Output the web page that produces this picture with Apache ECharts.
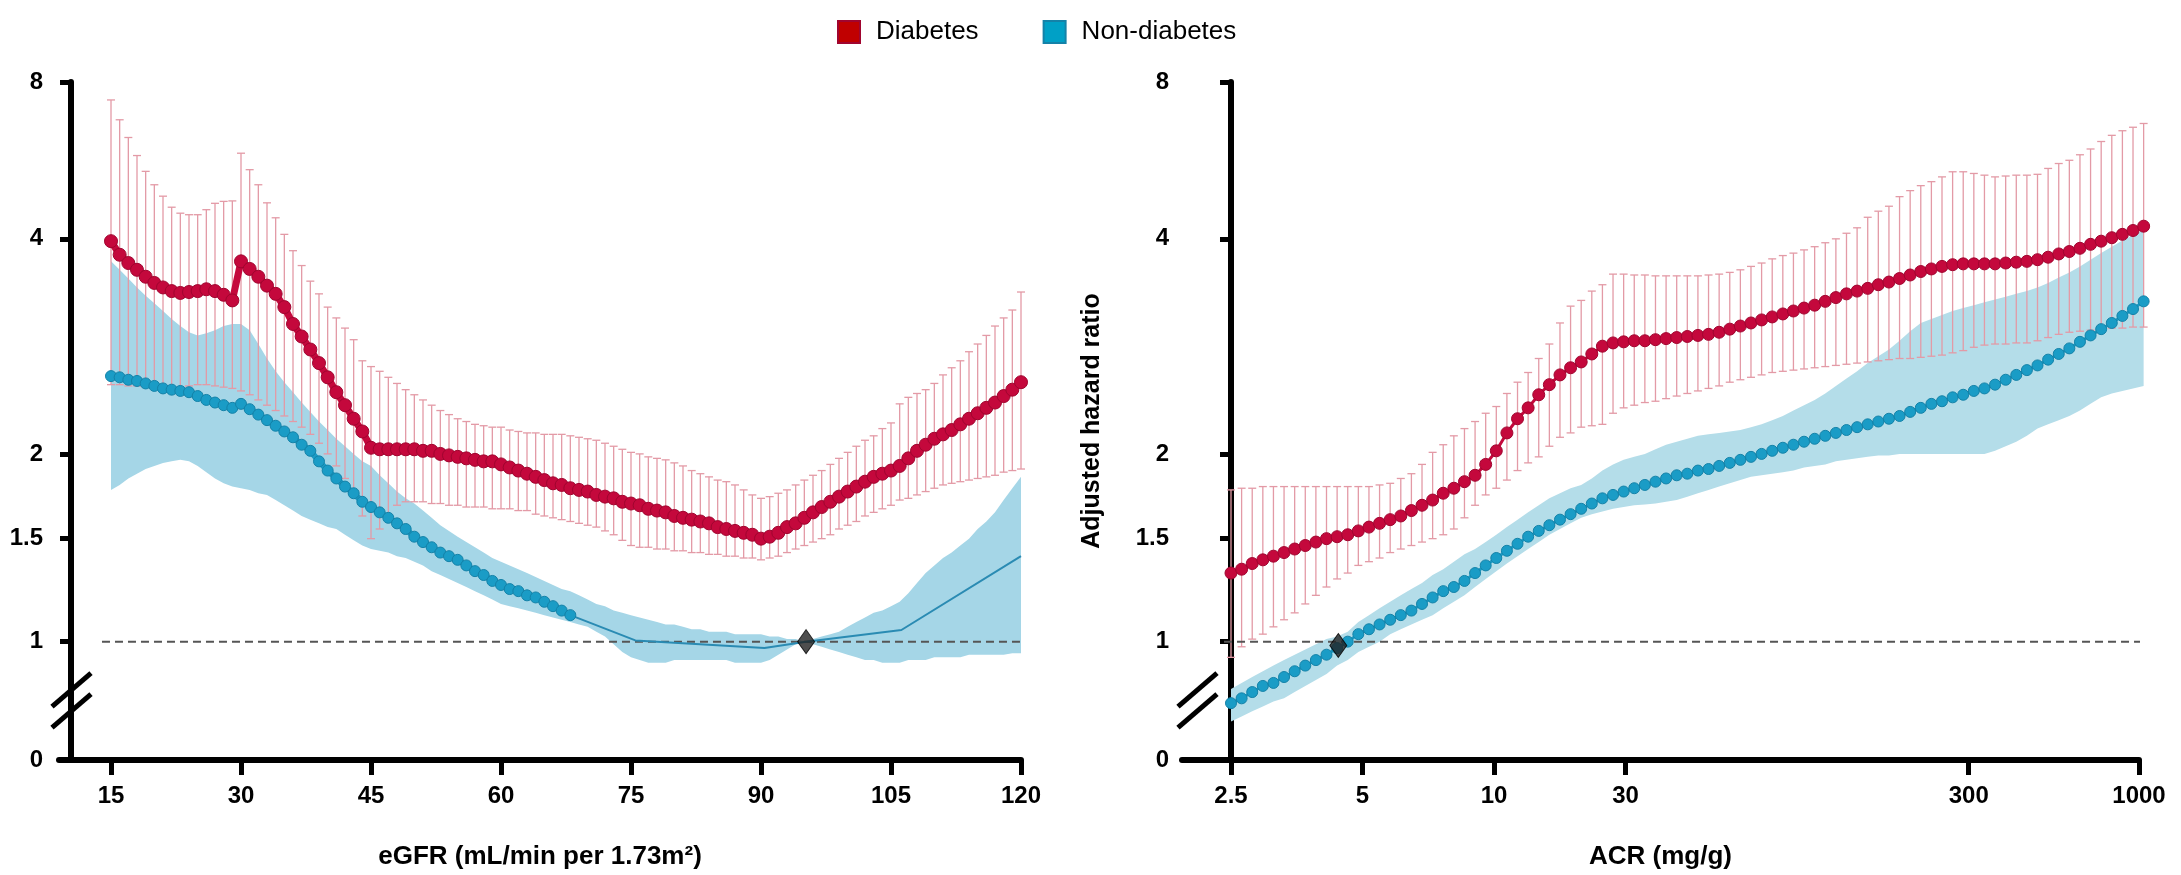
<!DOCTYPE html>
<html>
<head>
<meta charset="utf-8">
<script src="https://cdn.jsdelivr.net/npm/echarts@6/dist/echarts.min.js"></script>
<style>
  html, body { margin: 0; padding: 0; background: #fff; }
  #main { width: 2181px; height: 875px; }
</style>
</head>
<body>
<div id="main"></div>
<script>
// ---- tick labels / axis scale ----
var yTickHR = [0, 1, 1.5, 2, 4, 8];
var yTickLabels = ['0', '1', '1.5', '2', '4', '8'];
var egfrTicks = [15, 30, 45, 60, 75, 90, 105, 120];
var acrTickLabels = ['2.5', '5', '10', '30', '300', '1000'];
var acrTickPos = [0, 1, 2, 3, 5.61, 6.905];   // where each ACR label sits on the drawn scale

// eGFR grid (15..120, 1 per point) and ACR sampling grid on the drawn scale
var egfr = [];
for (var e = 15; e <= 120; e++) egfr.push(e);
var acrStep = 0.0807;
var acrPos = [];
for (var k = 0; k < 87; k++) acrPos.push(+(k * acrStep).toFixed(4));

// ---- eGFR panel ----
var redEstL = [3.97,3.80,3.70,3.62,3.54,3.47,3.42,3.38,3.36,3.37,3.38,3.40,3.38,3.34,3.28,
  3.72,3.63,3.54,3.44,3.35,3.21,3.04,2.92,2.80,2.68,2.56,2.44,2.34,2.24,2.15,
  2.04,2.03,2.03,2.03,2.03,2.03,2.02,2.02,2.00,1.99,1.98,1.97,1.96,1.95,1.95,
  1.93,1.91,1.89,1.87,1.85,1.83,1.81,1.80,1.78,1.77,1.76,1.74,1.73,1.72,1.70,
  1.69,1.68,1.66,1.65,1.64,1.62,1.61,1.60,1.59,1.58,1.56,1.55,1.54,1.53,1.52,
  1.50,1.51,1.53,1.56,1.58,1.61,1.64,1.67,1.70,1.73,1.76,1.79,1.82,1.85,1.87,
  1.89,1.92,1.97,2.02,2.06,2.10,2.13,2.16,2.20,2.24,2.28,2.32,2.36,2.41,2.46,2.52];
var redHiL = [7.39,6.77,6.26,5.78,5.39,5.08,4.83,4.60,4.48,4.45,4.45,4.55,4.68,4.72,4.73,
  5.84,5.43,5.08,4.69,4.39,4.08,3.85,3.67,3.49,3.35,3.21,3.10,3.00,2.89,2.70,
  2.65,2.61,2.56,2.51,2.46,2.42,2.38,2.34,2.30,2.27,2.24,2.22,2.20,2.19,2.18,
  2.18,2.16,2.15,2.14,2.14,2.13,2.13,2.13,2.12,2.11,2.10,2.09,2.07,2.05,2.03,
  2.01,2.00,1.98,1.97,1.96,1.94,1.92,1.89,1.87,1.85,1.83,1.82,1.80,1.77,1.74,
  1.72,1.73,1.75,1.77,1.80,1.83,1.86,1.89,1.93,1.97,2.01,2.05,2.09,2.12,2.17,
  2.21,2.35,2.40,2.43,2.46,2.51,2.58,2.64,2.70,2.78,2.85,2.93,3.02,3.10,3.18,3.37];
var redLoL = [2.50,2.50,2.49,2.49,2.48,2.48,2.47,2.47,2.48,2.49,2.50,2.50,2.49,2.48,2.47,
  2.45,2.42,2.38,2.34,2.30,2.26,2.22,2.18,2.13,2.07,2.00,1.92,1.84,1.74,1.62,
  1.50,1.55,1.62,1.68,1.70,1.70,1.70,1.69,1.69,1.68,1.68,1.67,1.67,1.67,1.66,
  1.66,1.66,1.65,1.65,1.63,1.62,1.61,1.60,1.59,1.58,1.57,1.56,1.54,1.52,1.49,
  1.46,1.45,1.45,1.44,1.44,1.43,1.43,1.42,1.42,1.41,1.41,1.40,1.40,1.39,1.39,
  1.38,1.39,1.40,1.42,1.44,1.46,1.48,1.50,1.52,1.55,1.57,1.59,1.62,1.64,1.66,
  1.68,1.71,1.72,1.74,1.76,1.78,1.80,1.81,1.82,1.83,1.84,1.85,1.86,1.88,1.89,1.90];
// non-diabetes dots run from 15 to 68, then a plain line
var blueEstL = [2.57,2.56,2.54,2.53,2.51,2.49,2.47,2.46,2.45,2.44,2.41,2.38,2.36,2.34,2.32,
  2.35,2.31,2.27,2.23,2.19,2.15,2.11,2.06,2.02,1.95,1.89,1.84,1.79,1.75,1.70,
  1.67,1.64,1.61,1.58,1.55,1.51,1.48,1.45,1.42,1.40,1.38,1.35,1.32,1.30,1.27,
  1.25,1.23,1.22,1.20,1.19,1.17,1.15,1.13,1.11];
var blueLineX = [68, 75.5, 90.4, 95.2, 106.2, 120];
var blueLineY = [1.11, 1.005, 0.975, 1.0, 1.047, 1.40];
var blueHiL = [3.72,3.62,3.52,3.42,3.33,3.25,3.17,3.09,3.02,2.96,2.93,2.95,2.98,3.02,3.04,
  3.04,2.98,2.85,2.72,2.61,2.52,2.44,2.36,2.29,2.22,2.16,2.10,2.05,2.00,1.95,
  1.92,1.86,1.81,1.76,1.72,1.69,1.65,1.61,1.57,1.54,1.51,1.48,1.45,1.42,1.39,
  1.37,1.35,1.33,1.31,1.29,1.27,1.25,1.23,1.22,1.20,1.18,1.16,1.15,1.13,1.12,
  1.11,1.10,1.09,1.08,1.07,1.07,1.06,1.05,1.05,1.04,1.04,1.04,1.03,1.03,1.03,
  1.03,1.02,1.02,1.01,1.01,1.00,1.01,1.02,1.03,1.04,1.06,1.08,1.10,1.12,1.13,
  1.15,1.17,1.21,1.26,1.31,1.35,1.39,1.42,1.46,1.50,1.55,1.59,1.64,1.71,1.78,1.85];
var blueLoL = [1.77,1.80,1.84,1.87,1.90,1.92,1.94,1.95,1.96,1.95,1.92,1.88,1.84,1.81,1.79,
  1.78,1.77,1.75,1.74,1.71,1.68,1.65,1.62,1.60,1.58,1.56,1.55,1.52,1.49,1.46,
  1.44,1.43,1.42,1.40,1.39,1.37,1.35,1.32,1.30,1.28,1.26,1.24,1.22,1.20,1.18,
  1.16,1.15,1.14,1.13,1.12,1.11,1.10,1.09,1.08,1.07,1.06,1.04,1.02,0.99,0.96,
  0.94,0.93,0.92,0.92,0.92,0.93,0.93,0.93,0.93,0.93,0.93,0.93,0.92,0.92,0.92,
  0.92,0.93,0.95,0.97,0.99,1.00,0.99,0.98,0.97,0.96,0.95,0.94,0.93,0.93,0.92,
  0.92,0.92,0.93,0.93,0.93,0.94,0.94,0.94,0.94,0.95,0.95,0.95,0.95,0.95,0.955,0.955];
var refPointL = [95.2, 1.0];

// ---- ACR panel ----
var redEstR = [1.31,1.33,1.36,1.38,1.40,1.42,1.44,1.46,1.48,1.50,
  1.51,1.52,1.54,1.56,1.58,1.60,1.62,1.65,1.68,1.71,
  1.75,1.78,1.82,1.86,1.93,2.02,2.14,2.24,2.32,2.42,
  2.50,2.58,2.64,2.69,2.76,2.83,2.86,2.87,2.88,2.88,
  2.89,2.90,2.91,2.92,2.93,2.94,2.96,2.99,3.02,3.05,
  3.08,3.11,3.14,3.17,3.20,3.23,3.27,3.31,3.35,3.38,
  3.41,3.45,3.48,3.52,3.56,3.60,3.63,3.66,3.68,3.69,
  3.69,3.69,3.69,3.70,3.71,3.72,3.74,3.77,3.81,3.84,
  3.88,3.93,3.97,4.02,4.08,4.15,4.23];
var redHiR = [1.77,1.78,1.78,1.79,1.79,1.79,1.79,1.79,1.79,1.79,
  1.79,1.79,1.79,1.79,1.80,1.81,1.84,1.87,1.93,2.01,
  2.06,2.12,2.17,2.22,2.28,2.33,2.43,2.52,2.60,2.72,
  2.85,3.05,3.22,3.28,3.38,3.45,3.57,3.57,3.56,3.56,
  3.55,3.55,3.55,3.55,3.55,3.56,3.57,3.59,3.62,3.66,
  3.70,3.75,3.79,3.82,3.86,3.90,3.95,4.00,4.10,4.20,
  4.40,4.52,4.62,4.82,4.95,5.06,5.15,5.26,5.38,5.38,
  5.34,5.30,5.26,5.28,5.30,5.30,5.32,5.46,5.58,5.66,
  5.80,5.95,6.15,6.32,6.45,6.55,6.66];
var redLoR = [0.94,0.98,1.01,1.03,1.06,1.09,1.12,1.16,1.20,1.24,
  1.28,1.31,1.35,1.37,1.39,1.42,1.44,1.46,1.48,1.50,
  1.52,1.55,1.61,1.68,1.74,1.78,1.83,1.89,1.94,1.98,
  2.05,2.11,2.14,2.18,2.19,2.20,2.28,2.32,2.34,2.36,
  2.37,2.39,2.41,2.43,2.45,2.47,2.49,2.52,2.54,2.56,
  2.58,2.60,2.61,2.62,2.63,2.64,2.65,2.66,2.67,2.68,
  2.69,2.70,2.71,2.72,2.72,2.73,2.74,2.75,2.77,2.79,
  2.82,2.84,2.85,2.85,2.86,2.86,2.88,2.91,2.94,2.96,
  2.97,2.98,2.99,3.00,3.00,3.01,3.01];
var blueEstR = [0.785,0.80,0.82,0.84,0.85,0.87,0.89,0.91,0.93,0.95,
  0.975,1.00,1.03,1.05,1.07,1.09,1.11,1.13,1.16,1.19,
  1.22,1.24,1.27,1.31,1.35,1.39,1.43,1.47,1.51,1.54,
  1.57,1.60,1.63,1.66,1.69,1.72,1.74,1.76,1.78,1.80,
  1.82,1.84,1.86,1.87,1.89,1.90,1.92,1.94,1.96,1.98,
  2.00,2.02,2.04,2.06,2.08,2.10,2.12,2.14,2.16,2.18,
  2.20,2.22,2.24,2.26,2.29,2.32,2.35,2.37,2.40,2.42,
  2.45,2.47,2.50,2.54,2.58,2.62,2.66,2.71,2.76,2.81,
  2.87,2.93,2.99,3.05,3.12,3.19,3.27];
var blueHiR = [0.83,0.85,0.87,0.89,0.91,0.93,0.95,0.97,0.99,1.01,
  1.02,1.04,1.08,1.11,1.14,1.17,1.20,1.23,1.26,1.30,
  1.33,1.37,1.41,1.44,1.48,1.52,1.56,1.60,1.64,1.68,
  1.72,1.75,1.78,1.80,1.84,1.89,1.93,1.96,1.98,2.00,
  2.03,2.06,2.08,2.10,2.12,2.13,2.14,2.15,2.16,2.18,
  2.20,2.23,2.26,2.30,2.34,2.38,2.43,2.49,2.55,2.61,
  2.68,2.74,2.80,2.88,2.97,3.05,3.09,3.13,3.17,3.20,
  3.23,3.26,3.29,3.32,3.35,3.38,3.42,3.47,3.53,3.59,
  3.66,3.74,3.82,3.90,3.98,4.07,4.16];
var blueLoR = [0.73,0.745,0.76,0.775,0.79,0.80,0.82,0.84,0.86,0.88,
  0.91,0.93,0.96,0.98,1.00,1.03,1.05,1.07,1.09,1.11,
  1.14,1.17,1.20,1.24,1.28,1.32,1.36,1.40,1.44,1.48,
  1.52,1.55,1.58,1.61,1.63,1.645,1.66,1.67,1.68,1.685,
  1.69,1.70,1.71,1.73,1.75,1.77,1.79,1.81,1.83,1.85,
  1.86,1.87,1.88,1.89,1.91,1.92,1.93,1.95,1.96,1.97,
  1.98,1.99,1.99,2.00,2.00,2.00,2.00,2.00,2.00,2.00,
  2.00,2.00,2.02,2.05,2.08,2.12,2.17,2.20,2.23,2.26,
  2.30,2.35,2.40,2.43,2.45,2.47,2.49];
var refPointR = [0.816, 0.985];

// ---- the broken hazard-ratio scale: log pieces between the printed ticks ----
var hrKnots = [1, 1.5, 2, 4, 8];
var posKnots = [118.7, 222, 307, 522.7, 680];
function hrPos(v) {
  if (v <= 1) {
    var s = (posKnots[1] - posKnots[0]) / Math.log(hrKnots[1] / hrKnots[0]);
    return Math.max(0, posKnots[0] + Math.log(v) * s);
  }
  for (var i = 0; i < hrKnots.length - 1; i++) {
    if (v <= hrKnots[i + 1] || i === hrKnots.length - 2) {
      var t = Math.log(v / hrKnots[i]) / Math.log(hrKnots[i + 1] / hrKnots[i]);
      return posKnots[i] + t * (posKnots[i + 1] - posKnots[i]);
    }
  }
}
var yTickPos = yTickHR.map(function (v) { return v === 0 ? 0 : hrPos(v); });

var FONT = '"Liberation Sans", Arial, Helvetica, sans-serif';
var RED = '#c4083c', RED_EDGE = '#a0052f', PINK = '#e39aa6';
var BLUE = '#1a9cc6', BLUE_EDGE = '#1482a8', BLUE_LINE = '#2a8bb3';
var BAND_L = '#a5d6e7', BAND_R = '#b4dde9';
var yOffsets = [12, 15];
var acrMin = -0.3726;

function pickLabel(vals, labels) {
  return function (v) {
    for (var i = 0; i < vals.length; i++) if (Math.abs(vals[i] - v) < 0.01) return labels[i];
    return '';
  };
}

function xAxisCfg(g, min, max, ticks, labels, name) {
  return {
    type: 'value', gridIndex: g, min: min, max: max,
    name: name, nameLocation: 'middle', nameGap: 84,
    nameTextStyle: { fontSize: 26, fontWeight: 'bold', fontFamily: FONT, color: '#000' },
    axisLine: { show: true, onZero: false, lineStyle: { color: '#000', width: 6 } },
    axisTick: { show: true, length: 15, customValues: ticks, lineStyle: { color: '#000', width: 5 } },
    axisLabel: { customValues: ticks, margin: 24, color: '#000', fontSize: 24, fontWeight: 'bold',
      fontFamily: FONT, formatter: pickLabel(ticks, labels) },
    splitLine: { show: false }
  };
}

function yAxisCfg(g, name) {
  return {
    type: 'value', gridIndex: g, min: 0, max: 680, offset: -yOffsets[g],
    name: name || '', nameLocation: 'middle', nameGap: 92, nameRotate: 90,
    nameTextStyle: { fontSize: 25, fontWeight: 'bold', fontFamily: FONT, color: '#000' },
    axisLine: { show: true, lineStyle: { color: '#000', width: 6 } },
    axisTick: { show: true, length: 11, customValues: yTickPos, lineStyle: { color: '#000', width: 5 } },
    axisLabel: { customValues: yTickPos, margin: 28, color: '#000', fontSize: 24, fontWeight: 'bold',
      fontFamily: FONT, formatter: pickLabel(yTickPos, yTickLabels) },
    splitLine: { show: false }
  };
}

function band(name, xs, lo, hi, g, fill) {
  var data = xs.map(function (x, i) { return [x, lo[i], hi[i]]; });
  return {
    type: 'custom', name: name, xAxisIndex: g, yAxisIndex: g, z: 1, silent: true, data: data,
    renderItem: function (params, api) {
      if (params.dataIndex !== 0) return null;
      var top = [], bot = [];
      for (var i = 0; i < data.length; i++) {
        top.push(api.coord([data[i][0], hrPos(data[i][2])]));
        bot.push(api.coord([data[i][0], hrPos(data[i][1])]));
      }
      return { type: 'polygon', shape: { points: top.concat(bot.reverse()) }, style: { fill: fill } };
    }
  };
}

function errBars(name, xs, lo, hi, g) {
  return {
    type: 'custom', name: name, xAxisIndex: g, yAxisIndex: g, z: 2, silent: true,
    data: xs.map(function (x, i) { return [x, lo[i], hi[i]]; }),
    renderItem: function (params, api) {
      var x = api.value(0);
      var a = api.coord([x, hrPos(api.value(1))]);
      var b = api.coord([x, hrPos(api.value(2))]);
      var st = { stroke: PINK, lineWidth: 1.3 };
      return { type: 'group', children: [
        { type: 'line', shape: { x1: a[0], y1: a[1], x2: b[0], y2: b[1] }, style: st },
        { type: 'line', shape: { x1: b[0] - 4, y1: b[1], x2: b[0] + 4, y2: b[1] }, style: st },
        { type: 'line', shape: { x1: a[0] - 4, y1: a[1], x2: a[0] + 4, y2: a[1] }, style: st }
      ] };
    }
  };
}

function dots(name, xs, ys, g, color, edge, size, lineW, z) {
  return {
    type: 'line', name: name, xAxisIndex: g, yAxisIndex: g, z: z, clip: false,
    data: ys.map(function (v, i) { return [xs[i], hrPos(v)]; }),
    symbol: 'circle', symbolSize: size, showSymbol: true, showAllSymbol: true,
    lineStyle: { color: color, width: lineW },
    itemStyle: { color: color, borderColor: edge, borderWidth: 1 },
    emphasis: { disabled: true }
  };
}

function refLine(name, x0, x1, g) {
  return {
    type: 'line', name: name, xAxisIndex: g, yAxisIndex: g, z: 3, clip: false, symbol: 'none', silent: true,
    data: [[x0, hrPos(1)], [x1, hrPos(1)]],
    lineStyle: { color: '#555', width: 2, type: [8, 5] }
  };
}

function diamond(name, p, g) {
  return {
    type: 'scatter', name: name, xAxisIndex: g, yAxisIndex: g, z: 6, silent: true,
    data: [[p[0], hrPos(p[1])]], symbol: 'diamond', symbolSize: [17, 24],
    itemStyle: { color: '#222', borderColor: '#000', borderWidth: 1 }
  };
}

var chart = echarts.init(document.getElementById('main'));
chart.setOption({
  animation: false,
  backgroundColor: '#fff',
  textStyle: { fontFamily: FONT },
  legend: {
    left: 832, top: 14, itemWidth: 22, itemHeight: 22, itemGap: 64, icon: 'rect',
    selectedMode: false,
    textStyle: { fontSize: 26, fontFamily: FONT, color: '#000', padding: [0, 0, 0, 11] },
    data: [
      { name: 'Diabetes', itemStyle: { color: '#c00000' } },
      { name: 'Non-diabetes', itemStyle: { color: '#00a0c6' } }
    ]
  },
  grid: [
    { left: 59, top: 82, width: 962, height: 680 },
    { left: 1182, top: 82, width: 957, height: 680 }
  ],
  xAxis: [
    xAxisCfg(0, 9, 120, egfrTicks, egfrTicks.map(String), 'eGFR (mL/min per 1.73m\u00b2)'),
    xAxisCfg(1, acrMin, 6.905, acrTickPos, acrTickLabels, 'ACR (mg/g)')
  ],
  yAxis: [yAxisCfg(0), yAxisCfg(1, 'Adjusted hazard ratio')],
  series: [
    band('Non-diabetes CI', egfr, blueLoL, blueHiL, 0, BAND_L),
    errBars('Diabetes CI', egfr, redLoL, redHiL, 0),
    refLine('HR 1', 13.96, 123.2, 0),
    dots('Non-diabetes', egfr.slice(0, blueEstL.length), blueEstL, 0, BLUE, BLUE_EDGE, 11, 6, 4),
    {
      type: 'line', name: 'Non-diabetes tail', xAxisIndex: 0, yAxisIndex: 0, z: 4, symbol: 'none', silent: true,
      data: blueLineY.map(function (v, i) { return [blueLineX[i], hrPos(v)]; }),
      lineStyle: { color: BLUE_LINE, width: 2 }
    },
    dots('Diabetes', egfr, redEstL, 0, RED, RED_EDGE, 13, 7, 5),
    diamond('Reference eGFR', refPointL, 0),

    band('Non-diabetes CI ACR', acrPos, blueLoR, blueHiR, 1, BAND_R),
    errBars('Diabetes CI ACR', acrPos, redLoR, redHiR, 1),
    refLine('HR 1 ACR', -0.053, 7.18, 1),
    dots('Non-diabetes', acrPos, blueEstR, 1, BLUE, BLUE_EDGE, 11, 3, 4),
    dots('Diabetes', acrPos, redEstR, 1, RED, RED_EDGE, 12, 3, 5),
    diamond('Reference ACR', refPointR, 1)
  ]
});

// axis break marks "//" on both y axes, between 0 and 1
var breakMarks = [];
[[0, 9], [1, acrMin]].forEach(function (gx) {
  [70, 49].forEach(function (p) {
    var c = chart.convertToPixel({ xAxisIndex: gx[0], yAxisIndex: gx[0] }, [gx[1], p]);
    var cx = c[0] + yOffsets[gx[0]], cy = c[1];
    breakMarks.push({
      type: 'line', z: 100,
      shape: { x1: cx - 19, y1: cy + 16.5, x2: cx + 20, y2: cy - 17 },
      style: { stroke: '#000', lineWidth: 5 }
    });
  });
});
chart.setOption({ graphic: breakMarks });
</script>
</body>
</html>
